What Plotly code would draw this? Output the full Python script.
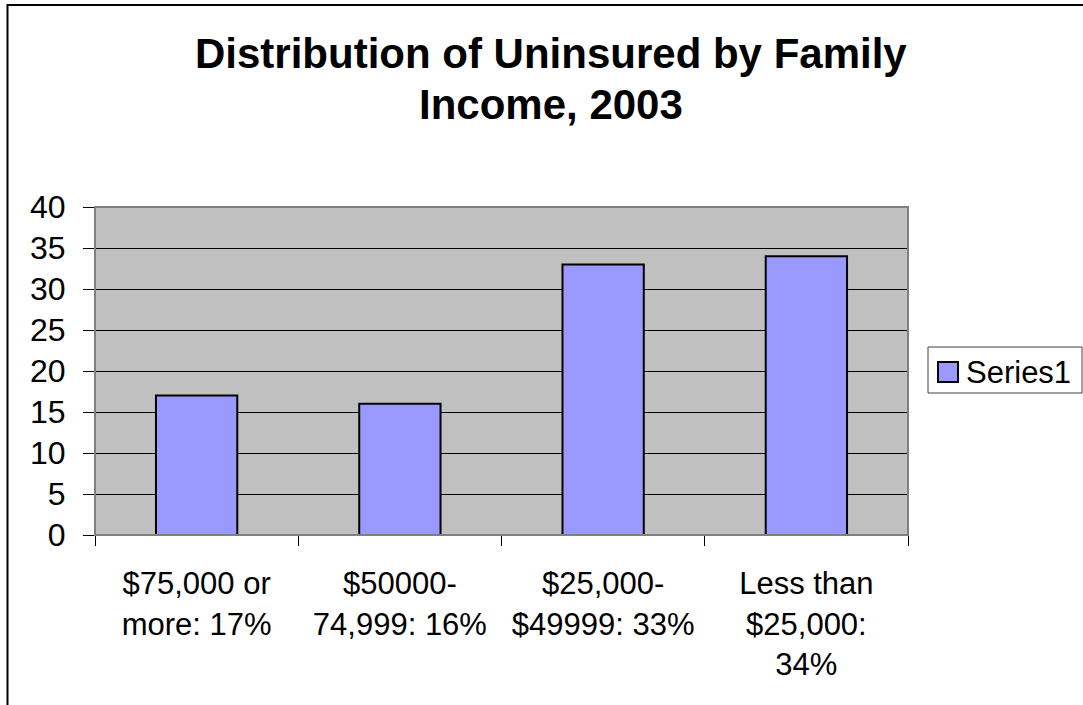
import plotly.graph_objects as go

# Distribution of the uninsured population by family income bracket, 2003
categories = [
    "$75,000 or<br>more: 17%",
    "$50000-<br>74,999: 16%",
    "$25,000-<br>$49999: 33%",
    "Less than<br>$25,000:<br>34%",
]
values = [17, 16, 33, 34]
series_name = "Series1"
y_ticks = [0, 5, 10, 15, 20, 25, 30, 35, 40]
title_lines = ["Distribution of Uninsured by Family", "Income, 2003"]

W, H = 1083, 705
ML, MR, MT, MB = 95, 175, 207, 170
PW, PH = W - ML - MR, H - MT - MB
FONT = "Arial, Liberation Sans, sans-serif"
BAR_COLOR = "#9999FF"


def px(x):
    return (x - ML) / PW


def py(y):
    return (H - MB - y) / PH


fig = go.Figure(
    go.Bar(
        x=categories,
        y=values,
        name=series_name,
        marker=dict(color=BAR_COLOR, line=dict(color="black", width=2)),
        showlegend=False,
    )
)

fig.update_layout(
    width=W,
    height=H,
    margin=dict(l=ML, r=MR, t=MT, b=MB, pad=0),
    paper_bgcolor="white",
    plot_bgcolor="#C0C0C0",
    bargap=0.6,
    font=dict(family=FONT, size=32, color="black"),
)

fig.update_xaxes(
    type="category",
    range=[-0.5, len(categories) - 0.5],
    showgrid=False,
    showline=True,
    linecolor="black",
    linewidth=1,
    ticks="outside",
    tickson="boundaries",
    ticklen=10,
    tickcolor="black",
    tickfont=dict(size=31),
    ticklabelstandoff=21,
)
fig.update_yaxes(
    range=[0, 40],
    tickvals=y_ticks,
    showgrid=True,
    gridcolor="black",
    gridwidth=1,
    zeroline=False,
    showline=False,
    ticks="outside",
    ticklen=11,
    tickcolor="black",
    tickfont=dict(size=32),
    ticklabelstandoff=11,
)

shapes = [
    # plot area frame
    dict(type="rect", xref="paper", yref="paper", x0=0, x1=1, y0=0, y1=1,
         line=dict(color="#808080", width=2), layer="above"),
    # chart area frame
    dict(type="rect", xref="paper", yref="paper",
         x0=px(7.5), x1=px(1095), y0=py(720), y1=py(5),
         line=dict(color="black", width=2)),
    # legend box
    dict(type="rect", xref="paper", yref="paper",
         x0=px(928), x1=px(1082), y0=py(393), y1=py(347),
         line=dict(color="#404040", width=1), fillcolor="white"),
    # legend swatch
    dict(type="rect", xref="paper", yref="paper",
         x0=px(938), x1=px(958), y0=py(382), y1=py(362),
         line=dict(color="black", width=2), fillcolor=BAR_COLOR),
]

annotations = [
    dict(text="<b>%s</b>" % title_lines[0], xref="paper", yref="paper",
         x=px(551), y=py(53), xanchor="center", yanchor="middle",
         showarrow=False, font=dict(size=42)),
    dict(text="<b>%s</b>" % title_lines[1], xref="paper", yref="paper",
         x=px(551), y=py(105), xanchor="center", yanchor="middle",
         showarrow=False, font=dict(size=42)),
    dict(text=series_name, xref="paper", yref="paper",
         x=px(964), y=py(372), xanchor="left", yanchor="middle",
         showarrow=False, font=dict(size=31)),
]

fig.update_layout(shapes=shapes, annotations=annotations)

fig.write_html("out.html")
